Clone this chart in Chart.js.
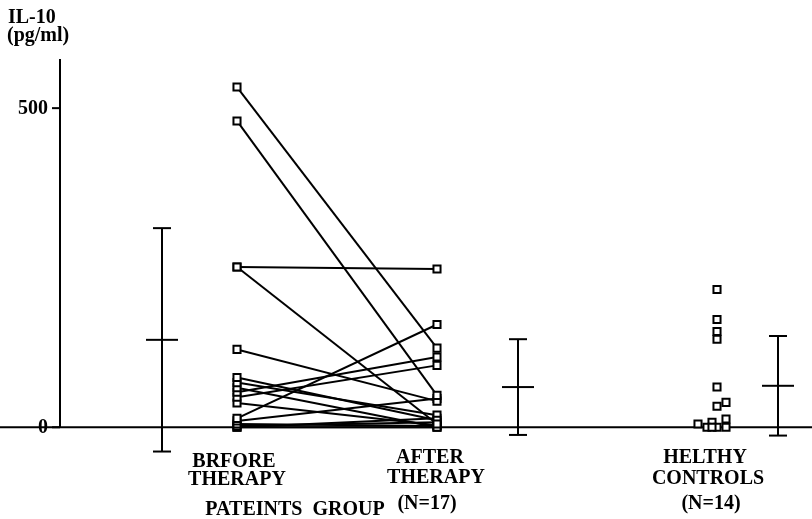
<!DOCTYPE html>
<html>
<head>
<meta charset="utf-8">
<script src="https://cdn.jsdelivr.net/npm/chart.js@4/dist/chart.umd.min.js"></script>
<style>
  html, body { margin: 0; padding: 0; background: #fff; }
  canvas { display: block; }
</style>
</head>
<body>
<canvas id="il10Chart" width="812" height="519"></canvas>
<script>
// IL-10 por paciente, antes e depois da terapia (pares na mesma ordem)
const beforeTherapy = [533, 480, 251, 251, 122, 78, 70, 62, 55, 47, 38, 14, 10, 5, 2, 0, 0];
const afterTherapy = [124, 50, 248, 5, 41, 11, 19, 0, 110, 97, 3, 161, 45, 2, 8, 0, 14];

// controles saudáveis (com pequeno deslocamento horizontal, como no original)
const healthyControls = [216, 169, 150, 138, 63, 33, 39, 13, 8, 5, 0, 0, 0, 0];
const healthyJitter = [0, 0, 0, 0, 0, 0, 0.045, 0.045, -0.025, -0.095, -0.05, 0, 0.045, -0.025];

// posições dos grupos no eixo x
const groupPos = [1, 2, 3.4];

// média ± DP de cada grupo
const sdPos = [0.625, 2.405, 3.705];
const groupMean = [137, 63, 65];
const groupSD = [175, 75, 78];

const yTicks = [0, 500];

const FONT = "'Liberation Serif', 'DejaVu Serif', serif";

// --- datasets ---
const datasets = [];

beforeTherapy.forEach((v, i) => {
  datasets.push({
    data: [
      { x: groupPos[0], y: v },
      { x: groupPos[1], y: afterTherapy[i] },
    ],
    showLine: true,
    borderColor: "#000",
    borderWidth: 2,
    pointStyle: "rect",
    pointRadius: 5,
    pointBorderWidth: 2,
    pointBackgroundColor: "#fff",
    pointBorderColor: "#000",
  });
});

datasets.push({
  data: healthyControls.map((v, i) => ({ x: groupPos[2] + healthyJitter[i], y: v })),
  showLine: false,
  pointStyle: "rect",
  pointRadius: 5,
  pointBorderWidth: 2,
  pointBackgroundColor: "#fff",
  pointBorderColor: "#000",
});

sdPos.forEach((x, i) => {
  datasets.push({
    data: [
      { x: x, y: groupMean[i] + groupSD[i] },
      { x: x, y: groupMean[i] },
      { x: x, y: groupMean[i] - groupSD[i] },
    ],
    showLine: true,
    borderColor: "#000",
    borderWidth: 2,
    pointStyle: "line",
    pointRadius: [9, 16, 9],
    pointBorderWidth: 2,
    pointBorderColor: "#000",
  });
});

// --- eixos e textos desenhados à mão ---
const axesPlugin = {
  id: "axesPlugin",
  beforeDatasetsDraw(chart) {
    const { ctx, chartArea, scales } = chart;
    const y0 = scales.y.getPixelForValue(0);
    ctx.save();
    ctx.strokeStyle = "#000";
    ctx.lineWidth = 2;
    // linha de base
    ctx.beginPath();
    ctx.moveTo(0, y0);
    ctx.lineTo(chart.width, y0);
    ctx.stroke();
    // eixo y
    ctx.beginPath();
    ctx.moveTo(chartArea.left, chartArea.top);
    ctx.lineTo(chartArea.left, y0);
    ctx.stroke();
    // ticks
    ctx.fillStyle = "#000";
    ctx.font = "bold 20px " + FONT;
    ctx.textAlign = "right";
    ctx.textBaseline = "middle";
    yTicks.forEach((t) => {
      const py = scales.y.getPixelForValue(t);
      ctx.beginPath();
      ctx.moveTo(chartArea.left - 8, py);
      ctx.lineTo(chartArea.left, py);
      ctx.stroke();
      ctx.fillText(String(t), chartArea.left - 12, py + 1);
    });
    ctx.restore();
  },
  afterDraw(chart) {
    const { ctx } = chart;
    ctx.save();
    ctx.fillStyle = "#000";
    ctx.textBaseline = "alphabetic";
    ctx.font = "bold 20px " + FONT;
    ctx.textAlign = "left";
    ctx.fillText("IL-10", 8, 23);
    ctx.fillText("(pg/ml)", 7, 41);

    ctx.textAlign = "center";
    ctx.font = "bold 20px " + FONT;
    ctx.fillText("BRFORE", 234, 467);
    ctx.fillText("THERAPY", 237, 485);
    ctx.fillText("AFTER", 430, 463);
    ctx.fillText("THERAPY", 436, 483);
    ctx.fillText("HELTHY", 705, 463);
    ctx.fillText("CONTROLS", 708, 484);
    ctx.fillText("PATEINTS  GROUP", 295, 515);
    ctx.fillText("(N=17)", 427, 509);
    ctx.fillText("(N=14)", 711, 509);
    ctx.restore();
  },
};

document.addEventListener("DOMContentLoaded", function () {
  const ctx = document.getElementById("il10Chart").getContext("2d");
  new Chart(ctx, {
    type: "scatter",
    data: { datasets: datasets },
    options: {
      responsive: false,
      devicePixelRatio: 1,
      animation: false,
      layout: { autoPadding: false, padding: { top: 59, left: 60, right: 0, bottom: 63 } },
      plugins: { legend: { display: false }, tooltip: { enabled: false } },
      scales: {
        x: { type: "linear", display: false, min: 0.115, max: 3.875 },
        y: { display: false, min: -45, max: 577 },
      },
    },
    plugins: [axesPlugin],
  });
});
</script>
</body>
</html>
